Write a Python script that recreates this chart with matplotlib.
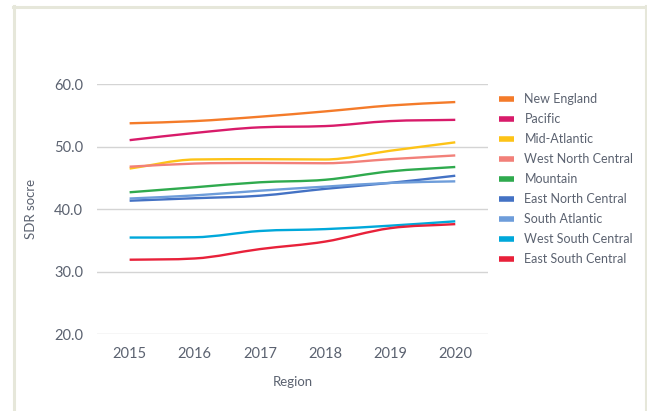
import numpy as np
import matplotlib
matplotlib.use("Agg")
import matplotlib.pyplot as plt
from matplotlib.path import Path
from matplotlib.patches import PathPatch
from matplotlib.lines import Line2D

years = [2015, 2016, 2017, 2018, 2019, 2020]
regions = ["New England", "Pacific", "Mid-Atlantic", "West North Central", "Mountain",
           "East North Central", "South Atlantic", "West South Central", "East South Central"]
new_england = [53.75, 54.1, 54.8, 55.65, 56.6, 57.15]
pacific = [51.05, 52.2, 53.1, 53.3, 54.1, 54.3]
mid_atlantic = [46.5, 47.95, 48.0, 47.95, 49.35, 50.7]
west_north_central = [46.8, 47.3, 47.4, 47.35, 48.0, 48.6]
mountain = [42.7, 43.5, 44.3, 44.7, 46.05, 46.75]
east_north_central = [41.35, 41.75, 42.15, 43.25, 44.2, 45.35]
south_atlantic = [41.7, 42.2, 42.95, 43.6, 44.2, 44.45]
west_south_central = [35.45, 35.5, 36.5, 36.8, 37.35, 38.05]
east_south_central = [31.9, 32.1, 33.6, 34.8, 36.95, 37.6]
series = [new_england, pacific, mid_atlantic, west_north_central, mountain,
          east_north_central, south_atlantic, west_south_central, east_south_central]
colors = ["#F47B2A", "#D81B6A", "#FDC317", "#F28079", "#2FAA4E",
          "#4472C4", "#6E9DDA", "#00A8DA", "#E8213A"]

TEXT = "#5B6270"
plt.rcParams['font.family'] = ['Lato', 'DejaVu Sans']

fig = plt.figure(figsize=(6.47, 4.11), dpi=100)
ax = fig.add_axes([0.150, 0.1873, 0.604, 0.6077])


def monotone_path(x, y):
    x = np.asarray(x, float); y = np.asarray(y, float)
    n = len(x)
    d = np.diff(y) / np.diff(x)
    m = np.zeros(n)
    m[0] = d[0]; m[-1] = d[-1]
    for i in range(1, n - 1):
        m[i] = 0 if d[i - 1] * d[i] <= 0 else (d[i - 1] + d[i]) / 2
    for i in range(n - 1):
        if d[i] == 0:
            m[i] = m[i + 1] = 0
            continue
        a = m[i] / d[i]; b = m[i + 1] / d[i]
        s = a * a + b * b
        if s > 9:
            t = 3 / np.sqrt(s)
            m[i] = t * a * d[i]; m[i + 1] = t * b * d[i]
    verts = [(x[0], y[0])]
    codes = [Path.MOVETO]
    for i in range(n - 1):
        h = (x[i + 1] - x[i]) / 3
        verts += [(x[i] + h, y[i] + m[i] * h), (x[i + 1] - h, y[i + 1] - m[i + 1] * h), (x[i + 1], y[i + 1])]
        codes += [Path.CURVE4] * 3
    return Path(verts, codes)


handles = []
for name, vals, c in zip(regions, series, colors):
    p = PathPatch(monotone_path(years, vals), facecolor='none', edgecolor=c, lw=1.7,
                  transform=ax.transData, capstyle='butt')
    ax.add_patch(p)
    handles.append(Line2D([], [], color=c, lw=4, solid_capstyle='butt'))

ax.set_xlim(2014.5, 2020.5)
ax.set_ylim(20, 60)
ax.set_yticks([20, 30, 40, 50, 60])
ax.set_yticklabels([f"{v:.1f}" for v in [20, 30, 40, 50, 60]])
ax.set_xticks(years)
ax.set_xticklabels([str(y) for y in years])
ax.grid(axis='y', color='#D4D4D4', lw=1)
ax.set_axisbelow(True)
for s in ax.spines.values():
    s.set_visible(False)
ax.tick_params(length=0, labelsize=10.5, labelcolor=TEXT)
ax.tick_params(axis='y', pad=10)
ax.tick_params(axis='x', pad=9)
ax.set_xlabel("Region", fontsize=9.5, color=TEXT, labelpad=11)
ax.set_ylabel("SDR socre", fontsize=9.5, color=TEXT, labelpad=12)

fig.legend(handles=handles, labels=regions, loc='upper left', bbox_to_anchor=(0.771, 0.773),
           frameon=False, fontsize=9, labelcolor=TEXT, handlelength=1.2, handletextpad=0.85,
           labelspacing=0.64, borderaxespad=0, borderpad=0)

bc = '#E6E7DA'
fig.add_artist(Line2D([13.5 / 647, 13.5 / 647], [0, 1 - 6 / 411], color=bc, lw=2.2, transform=fig.transFigure))
fig.add_artist(Line2D([12.5 / 647, 645.5 / 647], [1 - 7 / 411, 1 - 7 / 411], color=bc, lw=2.2, transform=fig.transFigure))
fig.add_artist(Line2D([645.5 / 647, 645.5 / 647], [0, 1 - 6 / 411], color=bc, lw=2.2, transform=fig.transFigure))

fig.savefig("out.png", dpi=100, facecolor='white')
